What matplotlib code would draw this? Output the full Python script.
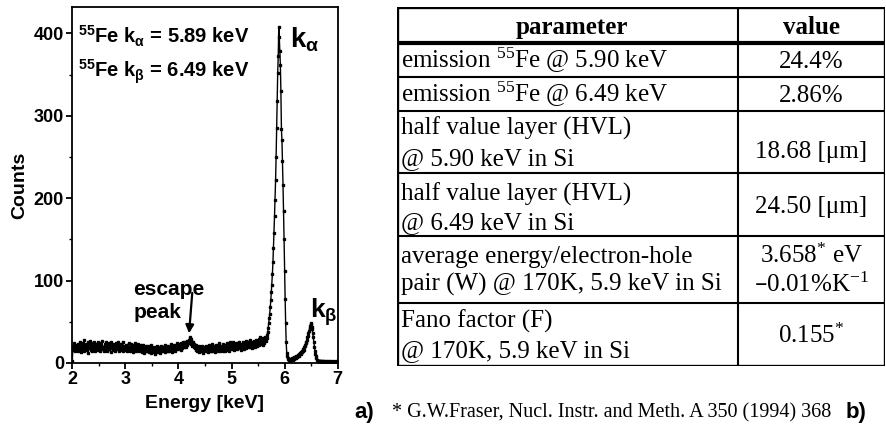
import numpy as np
import matplotlib
matplotlib.use("Agg")
import matplotlib.pyplot as plt

plt.rcParams['mathtext.default'] = 'regular'

# 55Fe spectrum, 10 eV bins from 2.00 to 7.00 keV (one row per 0.1 keV)
counts = [
    2, 16, 21, 18, 24, 15, 19, 22, 17, 20,
    14, 23, 19, 16, 26, 18, 21, 13, 20, 24,
    17, 19, 28, 15, 21, 18, 23, 16, 20, 25,
    12, 22, 18, 27, 19, 16, 21, 24, 15, 20,
    18, 25, 14, 21, 19, 23, 17, 20, 26, 16,
    22, 19, 15, 24, 18, 21, 27, 17, 20, 14,
    19, 23, 18, 16, 25, 20, 15, 22, 19, 24,
    17, 21, 13, 26, 18, 20, 23, 16, 19, 22,
    20, 15, 24, 18, 21, 17, 25, 19, 14, 22,
    18, 23, 20, 16, 19, 26, 15, 21, 18, 20,
    16, 22, 19, 14, 21, 18, 24, 17, 20, 15,
    19, 23, 16, 20, 13, 22, 18, 21, 17, 24,
    15, 19, 21, 17, 23, 14, 20, 18, 16, 22,
    18, 13, 20, 16, 22, 17, 12, 19, 15, 21,
    14, 18, 16, 21, 13, 19, 15, 17, 22, 12,
    16, 20, 13, 18, 15, 11, 19, 17, 14, 21,
    13, 17, 20, 15, 18, 12, 16, 21, 14, 19,
    17, 14, 19, 16, 22, 13, 18, 15, 20, 17,
    15, 21, 18, 14, 19, 16, 23, 17, 13, 20,
    18, 16, 22, 19, 15, 21, 17, 24, 18, 20,
    17, 23, 19, 21, 16, 24, 20, 18, 25, 22,
    19, 24, 21, 26, 20, 23, 27, 22, 25, 28,
    24, 31, 27, 23, 29, 25, 21, 26, 22, 19,
    23, 18, 20, 16, 22, 15, 19, 17, 13, 21,
    16, 19, 14, 18, 21, 15, 17, 12, 20, 16,
    18, 14, 21, 16, 19, 13, 17, 22, 15, 18,
    20, 15, 17, 23, 14, 19, 16, 21, 18, 13,
    17, 22, 16, 19, 14, 20, 18, 24, 15, 19,
    21, 16, 19, 15, 23, 18, 20, 14, 22, 17,
    19, 24, 16, 20, 18, 22, 15, 21, 25, 18,
    17, 22, 19, 25, 16, 21, 23, 18, 20, 24,
    20, 17, 24, 19, 22, 26, 18, 21, 16, 23,
    22, 19, 25, 21, 17, 24, 20, 27, 18, 23,
    21, 26, 19, 23, 28, 20, 24, 22, 18, 25,
    23, 20, 27, 22, 25, 19, 28, 24, 21, 26,
    24, 29, 22, 26, 31, 23, 27, 25, 30, 22,
    26, 30, 24, 28, 31, 27, 30, 34, 38, 42,
    48, 55, 60, 68, 76, 86, 95, 108, 122, 140,
    158, 178, 198, 222, 250, 285, 318, 352, 372, 408,
    395, 378, 362, 330, 284, 270, 245, 216, 185, 150,
    112, 78, 48, 25, 12, 8, 6, 5, 4, 4,
    5, 3, 4, 6, 5, 4, 6, 7, 5, 6,
    7, 6, 8, 7, 9, 8, 10, 9, 11, 12,
    11, 13, 14, 13, 15, 17, 16, 19, 21, 22,
    24, 26, 28, 31, 33, 36, 39, 42, 45, 47,
    48, 44, 41, 36, 31, 25, 20, 15, 11, 8,
    6, 4, 3, 3, 2, 2, 3, 2, 1, 2,
    2, 1, 2, 1, 1, 2, 1, 1, 2, 1,
    1, 1, 2, 1, 1, 1, 2, 1, 1, 1,
    1, 2, 1, 1, 1, 1, 2, 1, 1, 1,
    1,
]
energy = np.linspace(2.0, 7.0, len(counts))

xticks = [2, 3, 4, 5, 6, 7]
yticks = [0, 100, 200, 300, 400]

header = ["parameter", "value"]
param_lines = [
    [r"emission $^{55}$Fe @ 5.90 keV"],
    [r"emission $^{55}$Fe @ 6.49 keV"],
    ["half value layer (HVL)", "@ 5.90 keV in Si"],
    ["half value layer (HVL)", "@ 6.49 keV in Si"],
    ["average energy/electron-hole", "pair (W) @ 170K, 5.9 keV in Si"],
    ["Fano factor (F)", "@ 170K, 5.9 keV in Si"],
]
value_lines = [
    ["24.4%"],
    ["2.86%"],
    ["18.68 [μm]"],
    ["24.50 [μm]"],
    [r"3.658$^{*}$ eV", r"–0.01%K$^{-1}$"],
    [r"0.155$^{*}$"],
]
footnote = "* G.W.Fraser, Nucl. Instr. and Meth. A 350 (1994) 368"

fig = plt.figure(figsize=(8.87, 4.28), dpi=100)

# ---- a) spectrum
ax = fig.add_axes([0.0815, 0.1519, 0.2992, 0.8318])
ax.plot(energy, counts, color='k', lw=1.0, marker='s', ms=1.9)
ax.set_xlim(2, 7)
ax.set_ylim(0, 432)
ax.set_xticks(xticks)
ax.set_yticks(yticks)
ax.set_xticks(np.arange(2.5, 7, 1.0), minor=True)
ax.set_yticks(np.arange(50, 432, 100), minor=True)
for s in ax.spines.values():
    s.set_linewidth(1.3)
ax.tick_params(which='major', direction='out', length=4, width=1.3, pad=2)
ax.tick_params(which='minor', direction='out', length=2.5, width=1.0)
for lab in ax.get_xticklabels() + ax.get_yticklabels():
    lab.set_fontfamily('Liberation Sans')
    lab.set_fontweight('bold')
    lab.set_fontsize(13)
ax.set_xlabel("Energy [keV]", family='Liberation Sans', weight='bold', fontsize=14, labelpad=5)
ax.set_ylabel("Counts", family='Liberation Sans', weight='bold', fontsize=14, labelpad=4)

sans = dict(family='Liberation Sans', weight='bold')
ax.text(2.1, 388, r"$^{55}$Fe k$_{α}$ = 5.89 keV", fontsize=14.5, va='baseline', **sans)
ax.text(2.1, 347, r"$^{55}$Fe k$_{β}$ = 6.49 keV", fontsize=14.5, va='baseline', **sans)
ax.text(6.1, 383, r"k$_{α}$", fontsize=20, va='baseline', **sans)
ax.text(6.48, 55, r"k$_{β}$", fontsize=19, va='baseline', **sans)
ax.text(3.15, 55, "escape\npeak", fontsize=15, va='baseline', linespacing=1.25, **sans)
ax.annotate("", xy=(4.2, 36), xytext=(4.26, 85),
            arrowprops=dict(arrowstyle='-|>', color='k', lw=1.6, mutation_scale=12,
                            shrinkA=0, shrinkB=0))

# ---- b) table, drawn in pixel-like units
tx = fig.add_axes([397 / 887, 62 / 428, 488 / 887, 359 / 428])
tx.set_xlim(397, 885)
tx.set_ylim(366, 7)
tx.axis('off')

left, right, mid = 397, 885, 738
row_edges = [7, 43, 77, 111, 173, 236, 303, 366]
param_base = [[68], [102], [135, 165], [201, 229], [263, 291], [328, 357]]
value_base = [[68], [102], [158], [213], [263, 292], [343]]

for y in row_edges[2:-1]:
    tx.plot([left, right], [y, y], color='k', lw=1.5, solid_capstyle='butt')
tx.plot([left, right], [row_edges[1], row_edges[1]], color='k', lw=3.0, solid_capstyle='butt')
tx.plot([mid, mid], [row_edges[0], row_edges[-1]], color='k', lw=1.5)
tx.plot([left, right, right, left, left],
        [row_edges[0], row_edges[0], row_edges[-1], row_edges[-1], row_edges[0]],
        color='k', lw=2.4, solid_joinstyle='miter')

serif = dict(family='Liberation Serif', fontsize=18)
tx.text((left + mid) / 2 + 4, 34, header[0], ha='center', va='baseline', weight='bold', **serif)
tx.text((mid + right) / 2, 34, header[1], ha='center', va='baseline', weight='bold', **serif)
for lines, bases in zip(param_lines, param_base):
    for txt, b in zip(lines, bases):
        tx.text(left + 4, b, txt, ha='left', va='baseline', **serif)
for lines, bases in zip(value_lines, value_base):
    for txt, b in zip(lines, bases):
        tx.text((mid + right) / 2, b, txt, ha='center', va='baseline', **serif)

fig.text(392 / 887, 1 - 417 / 428, footnote, family='Liberation Serif', fontsize=14.5, va='baseline')
fig.text(354 / 887, 1 - 418 / 428, "a)", family='Liberation Sans', weight='bold', fontsize=16, va='baseline')
fig.text(846 / 887, 1 - 418 / 428, "b)", family='Liberation Sans', weight='bold', fontsize=16, va='baseline')

fig.savefig("out.png", dpi=100)
